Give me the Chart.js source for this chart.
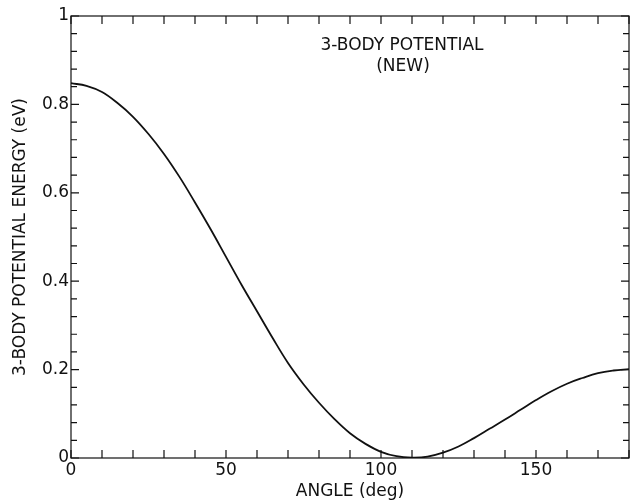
<!DOCTYPE html>
<html>
<head>
<meta charset="utf-8">
<script src="https://cdn.jsdelivr.net/npm/chart.js@4/dist/chart.umd.min.js"></script>
<style>
  body { margin: 0; background: #fff; }
  canvas { display: block; }
</style>
</head>
<body>
<canvas id="potChart" width="630" height="502"></canvas>
<script>
// angle (deg) and 3-body potential energy (eV)
const angles = [0, 5, 10, 15, 20, 25, 30, 35, 40, 45, 50, 55, 60, 65, 70, 75, 80, 85, 90,
  95, 100, 105, 110, 115, 120, 125, 130, 135, 140, 145, 150, 155, 160, 165, 170, 175, 180];
const energy = [0.848, 0.842, 0.828, 0.803, 0.772, 0.733, 0.688, 0.636, 0.578, 0.518, 0.455,
  0.392, 0.332, 0.272, 0.215, 0.167, 0.125, 0.088, 0.056, 0.032, 0.014, 0.004, 0.001, 0.003,
  0.012, 0.026, 0.045, 0.066, 0.087, 0.109, 0.131, 0.151, 0.168, 0.181, 0.192, 0.198, 0.201];
const xLabels = [0, 50, 100, 150];
const yLabels = [0, 0.2, 0.4, 0.6, 0.8, 1];
const titleLines = ['3-BODY POTENTIAL', '(NEW)'];

const FONT = '"DejaVu Sans", sans-serif';
const INK = '#111';
const SIZE = 17;

function isLabel(list, v) {
  return list.some(l => Math.abs(l - v) < 1e-6);
}

// frame, inward ticks on all four sides, and the caption
const framePlugin = {
  id: 'frame',
  afterDraw(chart) {
    const ctx = chart.ctx;
    const a = chart.chartArea;
    const xs = chart.scales.x, ys = chart.scales.y;
    ctx.save();
    ctx.strokeStyle = INK;
    ctx.lineWidth = 1.2;
    ctx.strokeRect(a.left, a.top, a.right - a.left, a.bottom - a.top);
    ctx.beginPath();
    xs.ticks.forEach(t => {
      const px = xs.getPixelForValue(t.value);
      ctx.moveTo(px, a.bottom); ctx.lineTo(px, a.bottom - 8);
      ctx.moveTo(px, a.top); ctx.lineTo(px, a.top + 8);
    });
    ys.ticks.forEach(t => {
      const py = ys.getPixelForValue(t.value);
      const len = isLabel(yLabels, t.value) ? 8 : 6;
      ctx.moveTo(a.left, py); ctx.lineTo(a.left + len, py);
      ctx.moveTo(a.right, py); ctx.lineTo(a.right - len, py);
    });
    ctx.stroke();

    ctx.fillStyle = INK;
    ctx.font = SIZE + 'px ' + FONT;
    ctx.textAlign = 'center';
    ctx.textBaseline = 'middle';
    ctx.fillText(titleLines[0], 402, 46);
    ctx.fillText(titleLines[1], 403, 67);
    ctx.restore();
  }
};

new Chart(document.getElementById('potChart').getContext('2d'), {
  type: 'line',
  data: {
    labels: angles,
    datasets: [{
      data: angles.map((a, i) => ({ x: a, y: energy[i] })),
      borderColor: INK,
      borderWidth: 1.8,
      pointRadius: 0,
      fill: false,
      tension: 0.4
    }]
  },
  options: {
    responsive: false,
    animation: false,
    layout: { padding: { top: 16, right: 1, left: 0, bottom: 0 } },
    plugins: {
      legend: { display: false },
      tooltip: { enabled: false }
    },
    scales: {
      x: {
        type: 'linear',
        min: 0,
        max: 180,
        afterFit: s => { s.height = 44; },
        grid: { display: false },
        border: { display: false },
        ticks: {
          stepSize: 10,
          autoSkip: false,
          maxRotation: 0,
          padding: -6,
          color: INK,
          font: { family: FONT, size: SIZE },
          callback: v => isLabel(xLabels, v) ? String(v) : ''
        },
        title: {
          display: true,
          text: 'ANGLE (deg)',
          color: INK,
          font: { family: FONT, size: SIZE },
          padding: { top: 4, bottom: 0 }
        }
      },
      y: {
        min: 0,
        max: 1,
        afterFit: s => { s.width = 71; },
        grid: { display: false },
        border: { display: false },
        ticks: {
          stepSize: 0.04,
          autoSkip: false,
          padding: -6,
          color: INK,
          font: { family: FONT, size: SIZE },
          callback: v => {
            if (!isLabel(yLabels, v)) return '';
            if (Math.abs(v) < 1e-6) return '0';
            if (Math.abs(v - 1) < 1e-6) return '1';
            return v.toFixed(1);
          }
        },
        title: {
          display: true,
          text: '3-BODY POTENTIAL ENERGY (eV)',
          color: INK,
          font: { family: FONT, size: SIZE },
          padding: { top: 10, bottom: 4 }
        }
      }
    }
  },
  plugins: [framePlugin]
});
</script>
</body>
</html>
